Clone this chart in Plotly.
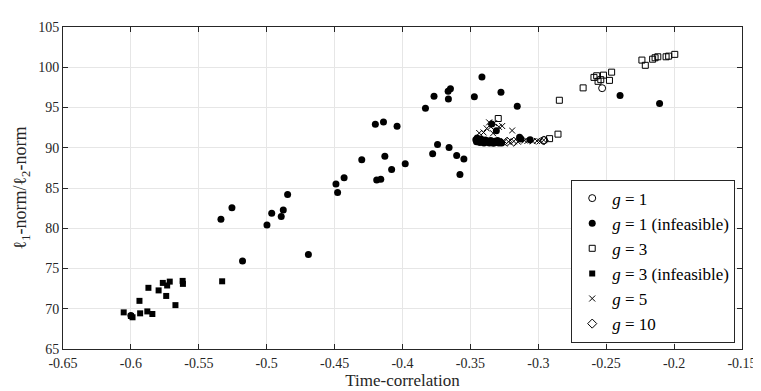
import plotly.graph_objects as go

# g = 1 (feasible, open circles)
g1_x = [-0.2957, -0.2530]
g1_y = [90.95, 97.40]

# g = 1 (infeasible, filled circles)
g1_inf_x = [-0.6000, -0.5337, -0.5256, -0.5178, -0.4998, -0.4963, -0.4893, -0.4878,
            -0.4846, -0.4693, -0.4478, -0.4490, -0.4430, -0.4300, -0.4190, -0.4160,
            -0.4200, -0.4140, -0.4130, -0.4080, -0.4040, -0.3980, -0.3831, -0.3768,
            -0.3778, -0.3742, -0.3664, -0.3647, -0.3662, -0.3657, -0.3601, -0.3548,
            -0.3577, -0.3471, -0.3415, -0.3275, -0.3155, -0.3138, -0.3127, -0.3060,
            -0.3309, -0.3343, -0.2398, -0.2107,
            -0.3460, -0.3455, -0.3450, -0.3440, -0.3430, -0.3420, -0.3410, -0.3400,
            -0.3390, -0.3380, -0.3370, -0.3360, -0.3350, -0.3340, -0.3330, -0.3320,
            -0.3310, -0.3300, -0.3290, -0.3280, -0.3270]
g1_inf_y = [69.15, 81.12, 82.56, 75.93, 80.41, 81.87, 81.46, 82.28,
            84.19, 76.75, 84.43, 85.49, 86.26, 88.50, 85.98, 86.10,
            92.93, 93.21, 88.94, 87.30, 92.68, 88.00, 94.92, 96.41,
            89.27, 90.40, 97.02, 97.34, 96.05, 90.04, 89.03, 88.59,
            86.69, 96.33, 98.79, 96.90, 95.16, 91.29, 91.10, 91.00,
            92.10, 92.94, 96.50, 95.49,
            91.00, 90.75, 91.20, 90.85, 90.65, 91.05, 90.80, 90.60,
            90.95, 90.70, 90.85, 90.60, 90.90, 90.70, 90.55, 90.80,
            90.65, 90.90, 90.60, 90.75, 90.60]

# g = 3 (feasible, open squares)
g3_x = [-0.3295, -0.2917, -0.2855, -0.2845, -0.2670, -0.2590, -0.2570, -0.2560,
        -0.2540, -0.2520, -0.2476, -0.2460, -0.2237, -0.2212, -0.2158, -0.2140,
        -0.2120, -0.2059, -0.2040, -0.1995]
g3_y = [93.63, 91.13, 91.69, 95.90, 97.44, 98.74, 98.94, 98.25,
        98.46, 99.02, 98.37, 99.39, 100.89, 100.24, 101.00, 101.18,
        101.30, 101.30, 101.38, 101.60]

# g = 3 (infeasible, filled squares)
g3_inf_x = [-0.6053, -0.6000, -0.5988, -0.5932, -0.5937, -0.5879, -0.5842, -0.5871,
            -0.5796, -0.5765, -0.5733, -0.5714, -0.5740, -0.5672, -0.5619, -0.5617,
            -0.5328]
g3_inf_y = [69.55, 69.10, 68.94, 69.43, 70.98, 69.67, 69.35, 72.60,
            72.28, 73.21, 72.89, 73.37, 71.59, 70.45, 73.46, 73.09,
            73.41]

# g = 5 (crosses)
g5_x = [-0.3403, -0.3435, -0.3362, -0.3326, -0.3266, -0.3333, -0.3193, -0.3350,
        -0.3290, -0.3380, -0.3250, -0.3220, -0.3180, -0.3150, -0.3100, -0.3080,
        -0.3040, -0.3010, -0.2990, -0.2960]
g5_y = [91.90, 91.83, 93.15, 93.05, 92.70, 91.80, 92.14, 92.60,
        92.60, 92.40, 90.80, 90.75, 90.80, 90.75, 90.90, 90.85,
        90.80, 90.85, 90.80, 90.95]

# g = 10 (diamonds)
g10_x = [-0.3230, -0.3180, -0.2960]
g10_y = [90.75, 90.75, 90.90]

x_ticks = [-0.65, -0.6, -0.55, -0.5, -0.45, -0.4, -0.35, -0.3, -0.25, -0.2, -0.15]
x_labels = ['-0.65', '-0.6', '-0.55', '-0.5', '-0.45', '-0.4', '-0.35', '-0.3', '-0.25', '-0.2', '-0.15']
y_ticks = [65, 70, 75, 80, 85, 90, 95, 100, 105]

FONT = 'Liberation Serif'
AX = '#262626'

fig = go.Figure()
fig.add_trace(go.Scatter(x=g1_x, y=g1_y, mode='markers', name='<i>g</i> = 1',
                         marker=dict(symbol='circle-open', size=7, color='black', line=dict(width=1))))
fig.add_trace(go.Scatter(x=g1_inf_x, y=g1_inf_y, mode='markers', name='<i>g</i> = 1 (infeasible)',
                         marker=dict(symbol='circle', size=7, color='black')))
fig.add_trace(go.Scatter(x=g3_x, y=g3_y, mode='markers', name='<i>g</i> = 3',
                         marker=dict(symbol='square-open', size=6, color='black', line=dict(width=1))))
fig.add_trace(go.Scatter(x=g3_inf_x, y=g3_inf_y, mode='markers', name='<i>g</i> = 3 (infeasible)',
                         marker=dict(symbol='square', size=6, color='black')))
fig.add_trace(go.Scatter(x=g5_x, y=g5_y, mode='markers', name='<i>g</i> = 5',
                         marker=dict(symbol='x-thin', size=6, color='black',
                                     line=dict(width=1, color='black'))))
fig.add_trace(go.Scatter(x=g10_x, y=g10_y, mode='markers', name='<i>g</i> = 10',
                         marker=dict(symbol='diamond-open', size=7, color='black', line=dict(width=1))))

axis_style = dict(showline=True, linecolor=AX, linewidth=1, mirror='ticks',
                  ticks='inside', ticklen=5, tickcolor=AX,
                  showgrid=True, gridcolor='#e6e6e6', gridwidth=1, zeroline=False,
                  tickfont=dict(family=FONT, size=14, color=AX))

fig.update_xaxes(range=[-0.65, -0.15], tickvals=x_ticks, ticktext=x_labels,
                 ticklabelstandoff=1,
                 title=dict(text='Time-correlation', font=dict(family=FONT, size=17, color=AX),
                            standoff=0),
                 **axis_style)
fig.update_yaxes(range=[65, 105], tickvals=y_ticks,
                 title=dict(text='ℓ<sub>1</sub>-norm/ℓ<sub>2</sub>-norm',
                            font=dict(family=FONT, size=18, color=AX), standoff=6),
                 **axis_style)

fig.update_layout(
    width=761, height=391,
    margin=dict(l=55, r=19, t=13, b=50),
    paper_bgcolor='white', plot_bgcolor='white',
    font=dict(family=FONT, color=AX),
    showlegend=True,
    legend=dict(x=0.99, y=0.02, xanchor='right', yanchor='bottom',
                bgcolor='white', bordercolor=AX, borderwidth=1,
                font=dict(family=FONT, size=17, color='black'),
                tracegroupgap=0),
)

fig.write_html("out.html")
